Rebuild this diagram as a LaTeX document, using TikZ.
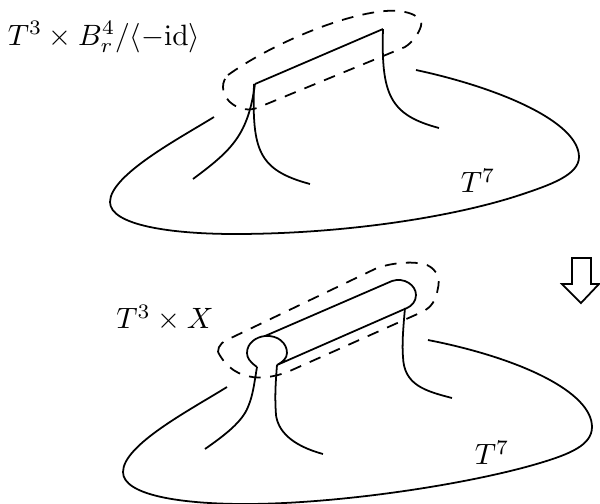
\documentclass[tikz,border=0pt]{standalone}
\tikzset{curve/.style={line width=0.6pt}, dashcurve/.style={line width=0.6pt, dash pattern=on 4pt off 3.2pt}}
\begin{document}
\begin{tikzpicture}[x=0.34pt, y=-0.34pt]
    \useasboundingbox (0,0) rectangle (600,504);

    \draw[curve] (214,117) .. controls (180,138) and (110,175) .. (110,202) .. controls (110,225) and (170,234) .. (235,234) .. controls (340,234) and (450,218) .. (520,195) .. controls (550,185) and (579,175) .. (579,157) .. controls (579,122) and (500,88) .. (416,70);
    \draw[curve] (255,84) -- (383,29);
    \draw[curve] (255,84) .. controls (248,135) and (232,150) .. (193,179);
    \draw[curve] (254,84) .. controls (252,150) and (258,170) .. (310,184);
    \draw[curve] (383,29) .. controls (381,95) and (390,115) .. (439,128);
    \draw[dashcurve] (228,75) .. controls (270,45) and (340,15) .. (385,11) .. controls (410,9) and (424,18) .. (421,26) .. controls (419,33) and (413,42) .. (405,47) -- (257,108) .. controls (240,114) and (222,100) .. (223,87) .. controls (223,82) and (225,78) .. (228,75);

    \node (labeltop) at (104,37) {$T^3\times B^4_r/\langle -\mathrm{id}\rangle$};
    \node (labeltorus) at (478,181) {$T^7$};

    \draw[curve] (227,387) .. controls (190,410) and (123,445) .. (123,472) .. controls (123,495) and (180,504) .. (245,504) .. controls (340,504) and (470,484) .. (540,463) .. controls (570,454) and (592,445) .. (592,427) .. controls (592,392) and (520,358) .. (428,340);
    \draw[curve] (265,336) -- (392,281) .. controls (404,277) and (416,285) .. (416,295) .. controls (416,301) and (412,306) .. (407,308) -- (277,365) .. controls (283,362) and (287,358) .. (287,353) .. controls (287,343) and (278,335) .. (265,336) .. controls (256,337) and (247,343) .. (247,353) .. controls (247,358) and (250,362) .. (257,367);
    \draw[curve] (257,367) .. controls (254,385) and (253,395) .. (248,407) .. controls (242,422) and (225,435) .. (205,449);
    \draw[curve] (277,365) .. controls (275,390) and (275,400) .. (276,415) .. controls (278,430) and (290,445) .. (323,454);
    \draw[curve] (405,308) .. controls (403,330) and (402,345) .. (403,357) .. controls (404,385) and (425,391) .. (452,398);
    \draw[dashcurve] (218,352) .. controls (218,345) and (223,341) .. (233,337) -- (377,268) .. controls (395,262) and (415,261) .. (427,265) .. controls (438,270) and (440,280) .. (438,288) .. controls (436,300) and (432,307) .. (422,312) -- (292,370) .. controls (270,380) and (235,385) .. (218,352);

    \node (labelbottom) at (165,318) {$T^3\times X$};
    \node (labeltorusb) at (492,453) {$T^7$};

    \draw[curve] (572,258) -- (591,258) -- (591,284) -- (599,284) -- (581,303) -- (562,284) -- (572,284) -- cycle;
\end{tikzpicture}
\end{document}
